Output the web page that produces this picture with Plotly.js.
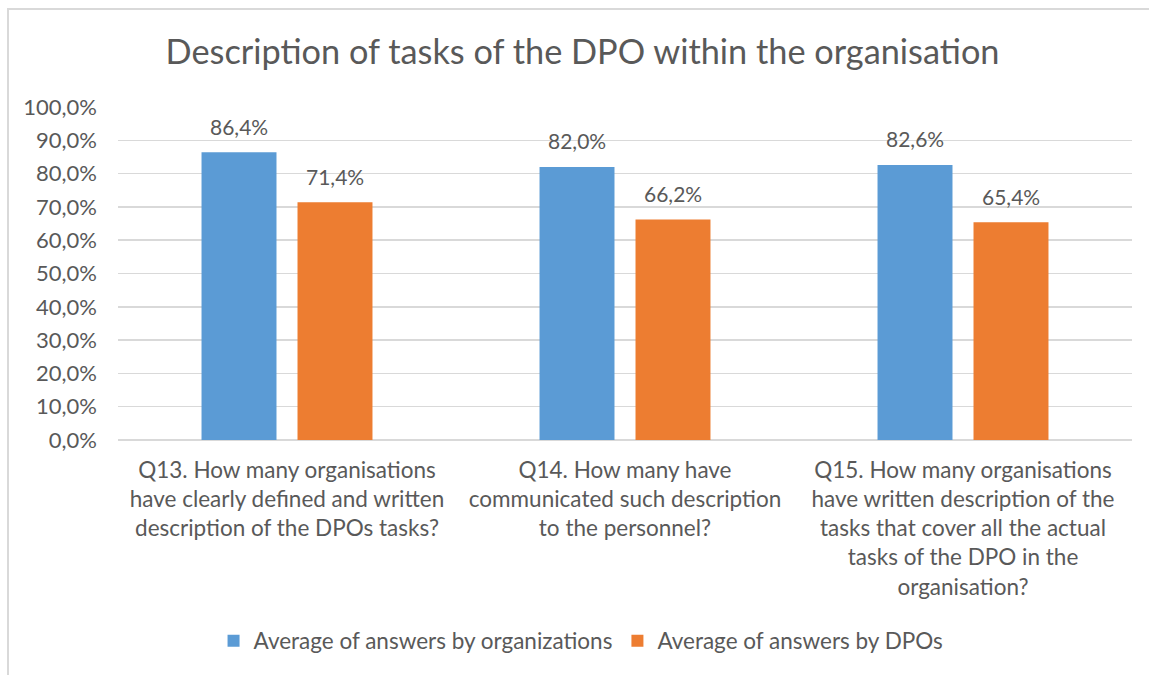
<!DOCTYPE html>
<html>
<head>
<meta charset="utf-8">
<script src="https://cdn.plot.ly/plotly-3.0.1.min.js"></script>
<style>
html,body{margin:0;padding:0;background:#fff;}
#frame{position:absolute;left:7px;top:8px;width:1142px;height:667px;border-top:2px solid #d9d9d9;border-left:2px solid #d9d9d9;box-sizing:border-box;}
#chart{position:absolute;left:0;top:0;width:1149px;height:675px;}
</style>
</head>
<body>
<div id="frame"></div>
<div id="chart"></div>
<script>
const categories = [
  "Q13. How many organisations<br>have clearly defined and written<br>description of the DPOs tasks?",
  "Q14. How many have<br>communicated such description<br>to the personnel?",
  "Q15. How many organisations<br>have written description of the<br>tasks that cover all the actual<br>tasks of the DPO in the<br>organisation?"
];
const seriesNames = ["Average of answers by organizations", "Average of answers by DPOs"];
const orgValues = [86.4, 82.0, 82.6];
const dpoValues = [71.4, 66.2, 65.4];
const yTickValues = [0,10,20,30,40,50,60,70,80,90,100];

const fmt = v => v.toFixed(1).replace('.', ',') + '%';
const font = "Lato, 'Open Sans', sans-serif";
const gray = '#595959';

// bar geometry (style): plot width / categories
const plotW = 1149 - 118 - 17;
const bargap = 0.432, bargroupgap = 0.219;
const slot = plotW / categories.length * (1 - bargap) / 2;

const traces = [
  {type:'bar', name:seriesNames[0], x:categories, y:orgValues,
   marker:{color:'#5B9BD5'}, hoverinfo:'skip'},
  {type:'bar', name:seriesNames[1], x:categories, y:dpoValues,
   marker:{color:'#ED7D31'}, hoverinfo:'skip'}
];

const annotations = [];
[orgValues, dpoValues].forEach((vals, si) => {
  vals.forEach((v, i) => {
    annotations.push({x:categories[i], y:v, xref:'x', yref:'y', text:fmt(v), showarrow:false,
      xshift:(si === 0 ? -1 : 1) * slot / 2, yshift:26, yanchor:'middle',
      font:{size:21, color:gray, family:font}});
  });
});

const layout = {
  width:1149, height:675,
  paper_bgcolor:'rgba(0,0,0,0)', plot_bgcolor:'rgba(0,0,0,0)',
  margin:{l:118, r:17, t:107, b:235},
  font:{family:font, color:gray},
  title:{text:'Description of tasks of the DPO within the organisation',
    font:{size:34.3, color:gray, family:font}, x:0.507, xref:'container', xanchor:'center',
    y:1-52/675, yref:'container', yanchor:'middle'},
  barmode:'group', bargap:bargap, bargroupgap:bargroupgap,
  showlegend:true,
  annotations:annotations,
  legend:{orientation:'h', x:0.5057, xref:'container', xanchor:'center', y:1-641/675, yref:'container', yanchor:'middle',
    font:{size:22.5,color:gray,family:font}, itemwidth:30, traceorder:'normal'},
  xaxis:{tickfont:{size:22.5,color:gray,family:font}, showgrid:false, showline:false, ticks:'', automargin:false, fixedrange:true, ticklabelstandoff:14},
  yaxis:{range:[0,100], tickvals:yTickValues, ticktext:yTickValues.map(v=>fmt(v)),
    tickfont:{size:22,color:gray,family:font}, gridcolor:'#d9d9d9', gridwidth:1.5,
    zeroline:true, zerolinecolor:'#d9d9d9', zerolinewidth:1.5, showline:false, ticks:'', ticklen:0, automargin:false, fixedrange:true, ticklabelstandoff:20}
};

Plotly.newPlot('chart', traces, layout, {displayModeBar:false, staticPlot:true});
</script>
</body>
</html>
